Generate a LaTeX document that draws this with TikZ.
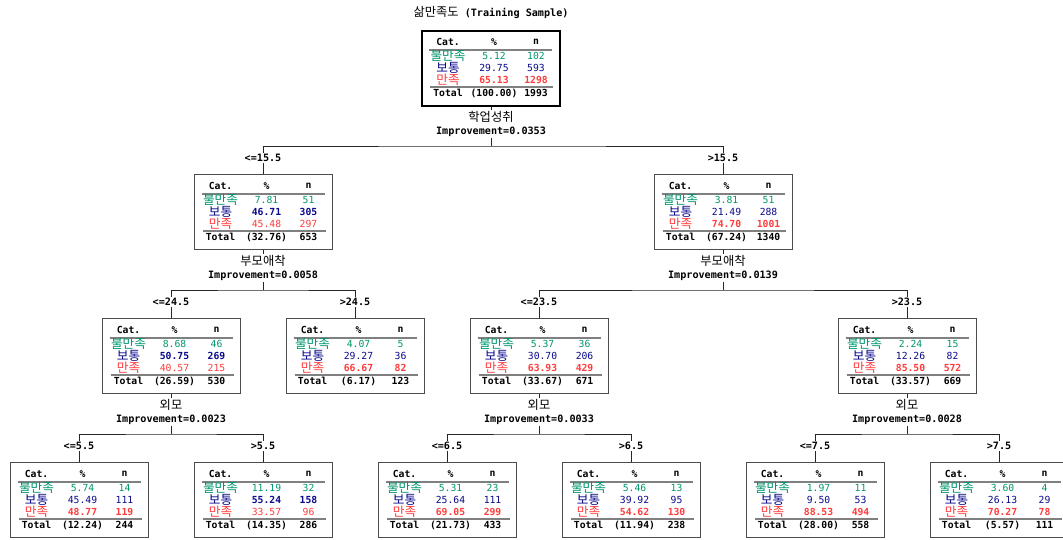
\documentclass[tikz,border=0pt]{standalone}
\usepackage{fontspec}
\setmonofont{DejaVu Sans Mono}
\newfontfamily\krfont{Noto Sans CJK KR}
\usepackage{tikz}
\usetikzlibrary{calc,positioning}

\definecolor{grn}{RGB}{0,150,110}
\definecolor{nvy}{RGB}{10,10,140}
\definecolor{rd}{RGB}{255,60,60}

\newcommand{\valfont}{\ttfamily\fontsize{7.3}{8}\selectfont}

% #1 extra style, #2 name, #3 x, #4 top, #5 pct/n rows, #6 modal row, #7 total pct, #8 total n
\newcommand{\statbox}[8][]{%
  \node[sbox,#1] (#2) at (#3,#4) {};
  \node[hd] (#2-h1) at ($(#2.north west)+(27,12)$) {Cat.};
  \node[hd] (#2-h2) at ($(#2.north west)+(73,12)$) {\%};
  \node[hd] (#2-h3) at ($(#2.north west)+(115,12)$) {n};
  \draw[rule] ($(#2.north west)+(8,20)$) -- ($(#2.north west)+(131,20)$);
  \foreach \cat/\col [count=\i] in {불만족/grn,보통/nvy,만족/rd}
    \node[cat, text=\col] (#2-c\i) at ($(#2.north west)+(27,{14+12*\i})$) {\cat};
  \foreach \vp/\vn [count=\i] in {#5} {
    \ifcase\i\or\def\col{grn}\or\def\col{nvy}\or\def\col{rd}\fi
    \ifnum\i=#6\relax\def\vf{\bfseries}\else\def\vf{\mdseries}\fi
    \node[val, text=\col, font=\valfont\vf] (#2-p\i) at ($(#2.north west)+(73,{14+12*\i})$) {\vp};
    \node[val, text=\col, font=\valfont\vf] (#2-n\i) at ($(#2.north west)+(115,{14+12*\i})$) {\vn};
  }
  \draw[rule] ($(#2.north west)+(9,57)$) -- ($(#2.north west)+(132,57)$);
  \node[hd] (#2-t1) at ($(#2.north west)+(27,63)$) {Total};
  \node[hd] (#2-t2) at ($(#2.north west)+(73,63)$) {#7};
  \node[hd] (#2-t3) at ($(#2.north west)+(115,63)$) {#8};
}

% #1 parent, #2 left child, #3 right child, #4 variable, #5 improvement, #6/#7 cut labels
\newcommand{\splitinfo}[7]{%
  \node[varlbl] (#1v) at ($(#1.north)+(0,87)$) {#4};
  \node[implbl] (#1i) at ($(#1.north)+(0,102)$) {Improvement=#5};
  \coordinate (#1h) at ($(#1.north)+(0,116)$);
  \node[cutlbl] (#2s) at ($(#2.north)+(0,-16)$) {#6};
  \node[cutlbl] (#3s) at ($(#3.north)+(0,-16)$) {#7};
  \draw[conn] (#1.south) -- (#1v.north);
  \draw[conn] (#1i.south) -- (#1h);
  \draw[conn] (#2s.north) |- (#1h) -| (#3s.north);
  \draw[conn] (#2s.south) -- (#2.north);
  \draw[conn] (#3s.south) -- (#3.north);
}

\begin{document}
\begin{tikzpicture}[
    x=0.75pt, y=-0.75pt,
    sbox/.style={draw=black!70, line width=0.7pt, minimum width=103.5pt, minimum height=56.25pt, inner sep=0pt, anchor=north},
    root/.style={draw=black, line width=1.5pt},
    hd/.style={font=\ttfamily\bfseries\fontsize{7.3}{8}\selectfont, inner sep=0.5pt},
    cat/.style={font=\krfont\fontsize{9.5}{10}\selectfont, inner sep=0.5pt},
    val/.style={inner sep=0.5pt},
    rule/.style={draw=black!50, line width=0.9pt},
    varlbl/.style={font=\krfont\fontsize{9.2}{10}\selectfont, inner sep=1pt},
    implbl/.style={font=\ttfamily\bfseries\fontsize{7.6}{9}\selectfont, inner sep=1pt},
    cutlbl/.style={font=\ttfamily\bfseries\fontsize{7.6}{9}\selectfont, inner sep=1pt},
    conn/.style={draw=black!85, line width=0.6pt}
]
    \path[use as bounding box, fill=white] (0,0) rectangle (1063,539);

    \node[font=\ttfamily\bfseries\fontsize{7.6}{9}\selectfont, inner sep=1pt] (title) at (491,12)
        {{\krfont\mdseries\fontsize{9.2}{10}\selectfont 삶만족도} (Training Sample)};

    \statbox[root]{n0}{491}{30}{5.12/102, 29.75/593, 65.13/1298}{3}{(100.00)}{1993}

    \statbox{n1}{263}{174}{7.81/51, 46.71/305, 45.48/297}{2}{(32.76)}{653}
    \statbox{n2}{723}{174}{3.81/51, 21.49/288, 74.70/1001}{3}{(67.24)}{1340}

    \statbox{n3}{171}{318}{8.68/46, 50.75/269, 40.57/215}{2}{(26.59)}{530}
    \statbox{n4}{355}{318}{4.07/5, 29.27/36, 66.67/82}{3}{(6.17)}{123}
    \statbox{n5}{539}{318}{5.37/36, 30.70/206, 63.93/429}{3}{(33.67)}{671}
    \statbox{n6}{907}{318}{2.24/15, 12.26/82, 85.50/572}{3}{(33.57)}{669}

    \statbox{n7}{79}{462}{5.74/14, 45.49/111, 48.77/119}{3}{(12.24)}{244}
    \statbox{n8}{263}{462}{11.19/32, 55.24/158, 33.57/96}{2}{(14.35)}{286}
    \statbox{n9}{447}{462}{5.31/23, 25.64/111, 69.05/299}{3}{(21.73)}{433}
    \statbox{n10}{631}{462}{5.46/13, 39.92/95, 54.62/130}{3}{(11.94)}{238}
    \statbox{n11}{815}{462}{1.97/11, 9.50/53, 88.53/494}{3}{(28.00)}{558}
    \statbox{n12}{999}{462}{3.60/4, 26.13/29, 70.27/78}{3}{(5.57)}{111}

    \splitinfo{n0}{n1}{n2}{학업성취}{0.0353}{<=15.5}{>15.5}
    \splitinfo{n1}{n3}{n4}{부모애착}{0.0058}{<=24.5}{>24.5}
    \splitinfo{n2}{n5}{n6}{부모애착}{0.0139}{<=23.5}{>23.5}
    \splitinfo{n3}{n7}{n8}{외모}{0.0023}{<=5.5}{>5.5}
    \splitinfo{n5}{n9}{n10}{외모}{0.0033}{<=6.5}{>6.5}
    \splitinfo{n6}{n11}{n12}{외모}{0.0028}{<=7.5}{>7.5}
\end{tikzpicture}
\end{document}
